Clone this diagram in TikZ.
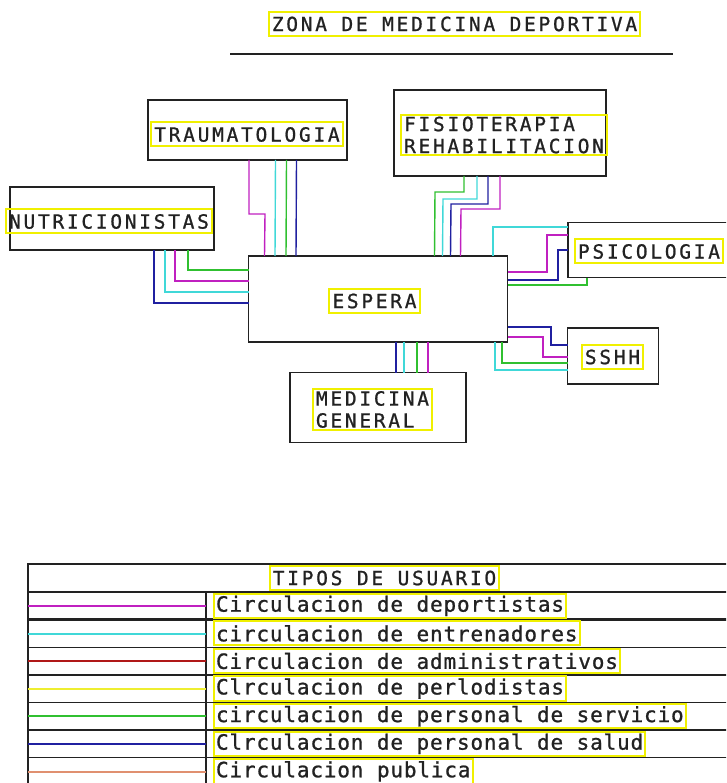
\documentclass[tikz,border=0pt]{standalone}
\usepackage{fontspec}
\newfontfamily\cadfont[LetterSpace=14,FakeBold=1]{DejaVu Sans Mono}
\newfontfamily\cadleg[LetterSpace=4,FakeBold=1]{DejaVu Sans Mono}
\usepackage{xcolor}
\definecolor{ink}{HTML}{222222}
\definecolor{lblc}{HTML}{F0F000}
\definecolor{dep}{HTML}{C020C0}
\definecolor{ent}{HTML}{40D8D8}
\definecolor{adm}{HTML}{B01818}
\definecolor{per}{HTML}{EEEE30}
\definecolor{ser}{HTML}{30C030}
\definecolor{sal}{HTML}{2020A0}
\definecolor{pub}{HTML}{E09070}
\usepackage{tikz}
\usetikzlibrary{positioning,calc}

\begin{document}
\begin{tikzpicture}[x=1pt,y=-1pt,
  room/.style={draw=ink,line width=1.6pt,inner sep=0pt,outer sep=0pt},
  lbl/.style={draw=lblc,line width=2pt,inner xsep=3pt,inner ysep=2pt,minimum height=24pt,text=ink,font=\cadfont\fontsize{19.5}{22}\selectfont},
  leg/.style={draw=lblc,line width=2pt,inner sep=2pt,anchor=west,minimum height=24pt,text=ink,font=\cadleg\fontsize{21}{22}\selectfont},
  flow/.style={line width=1.4pt}]
  \useasboundingbox (0,0) rectangle (726,783);
  \clip (0,0) rectangle (726,783);

  \node[lbl] (title) at (454.5,24) {ZONA DE MEDICINA DEPORTIVA};
  \draw[ink,line width=1.8pt] (230,54) -- (673,54);

  \node[room,minimum width=199pt,minimum height=60pt] (trauma) at (247.5,130) {};
  \node[room,minimum width=212pt,minimum height=86pt] (fisio) at (500,133) {};
  \node[room,minimum width=204pt,minimum height=63pt] (nutri) at (112,218.5) {};
  \node[room,minimum width=168pt,minimum height=55pt] (psico) at (652,250) {};
  \node[room,minimum width=259pt,minimum height=86pt] (espera) at (378,299) {};
  \node[room,minimum width=91pt,minimum height=56pt] (sshh) at (613,356) {};
  \node[room,minimum width=176pt,minimum height=70pt] (medgen) at (378,407.5) {};

  \node[lbl] (traumatxt) at (247,134.5) {TRAUMATOLOGIA};
  \node[lbl,align=left] (fisiotxt) at (504,135) {FISIOTERAPIA\\REHABILITACION};
  \node[lbl] (nutritxt) at (109,221.5) {NUTRICIONISTAS};
  \node[lbl] (psicotxt) at (649,251.5) {PSICOLOGIA};
  \node[lbl] (esperatxt) at (374.5,301) {ESPERA};
  \node[lbl] (sshhtxt) at (612.5,357) {SSHH};
  \node[lbl,align=left] (medgentxt) at (372.5,409.5) {MEDICINA\\GENERAL};

  \draw[flow,dep] ([xshift=101pt]trauma.south west) |- (265,214) -- ([xshift=16pt]espera.north west);
  \draw[flow,ent] ([xshift=127.5pt]trauma.south west) -- ([xshift=26.5pt]espera.north west);
  \draw[flow,ser] ([xshift=138.5pt]trauma.south west) -- ([xshift=37.5pt]espera.north west);
  \draw[flow,sal] ([xshift=148.5pt]trauma.south west) -- ([xshift=47.5pt]espera.north west);

  \draw[flow,sal] ([xshift=144pt]nutri.south west) |- ([yshift=-4pt]espera.west);
  \draw[flow,ent] ([xshift=155pt]nutri.south west) |- ([yshift=7pt]espera.west);
  \draw[flow,dep] ([xshift=165pt]nutri.south west) |- ([yshift=18pt]espera.west);
  \draw[flow,ser] ([xshift=178pt]nutri.south west) |- ([yshift=29pt]espera.west);

  \draw[flow,ser] ([xshift=70pt]fisio.south west) |- (435,192) -- ([xshift=186pt]espera.north west);
  \draw[flow,ent] ([xshift=83pt]fisio.south west) |- (443,199) -- ([xshift=194pt]espera.north west);
  \draw[flow,sal] ([xshift=94pt]fisio.south west) |- (451,204) -- ([xshift=202pt]espera.north west);
  \draw[flow,dep] ([xshift=106pt]fisio.south west) |- (461,209) -- ([xshift=212pt]espera.north west);

  \draw[flow,ent] ([xshift=-14.5pt]espera.north east) |- ([yshift=23pt]psico.west);
  \draw[flow,dep] ([yshift=27pt]espera.east) -| (547,235) -- ([yshift=15pt]psico.west);
  \draw[flow,sal] ([yshift=19pt]espera.east) -| (558,250) -- (psico.west);
  \draw[flow,ser] ([yshift=14pt]espera.east) -| ([xshift=19pt]psico.south west);

  \draw[flow,sal] ([yshift=-28pt]espera.east) -| (551,345) -- ([yshift=11pt]sshh.west);
  \draw[flow,dep] ([yshift=-38pt]espera.east) -| (543,357) -- ([yshift=-1pt]sshh.west);
  \draw[flow,ser] ([xshift=-5.5pt]espera.south east) |- ([yshift=-7pt]sshh.west);
  \draw[flow,ent] ([xshift=-12.5pt]espera.south east) |- ([yshift=-14pt]sshh.west);

  \draw[flow,sal] ([xshift=106pt]medgen.north west) -- ([xshift=147.5pt]espera.south west);
  \draw[flow,ent] ([xshift=114pt]medgen.north west) -- ([xshift=155.5pt]espera.south west);
  \draw[flow,ser] ([xshift=127pt]medgen.north west) -- ([xshift=168.5pt]espera.south west);
  \draw[flow,dep] ([xshift=138pt]medgen.north west) -- ([xshift=179.5pt]espera.south west);

  \draw[ink,line width=1.6pt] (740,564) -- (28,564) -- (28,800);
  \draw[ink,line width=1.6pt] (206,592) -- (206,800);
  \foreach \j in {0,2,4,6}
    \draw[ink,line width=1.2pt] (28,{592+27.6*\j}) -- (740,{592+27.6*\j});
  \foreach \j in {1,3,5}
    \draw[ink,line width=2.6pt] (28,{592+27.6*\j}) -- (740,{592+27.6*\j});
  \node[lbl] (tipos) at (384.5,578) {TIPOS DE USUARIO};
  \foreach \col/\txt [count=\i from 0] in {dep/Circulacion de deportistas,
      ent/circulacion de entrenadores,
      adm/Circulacion de administrativos,
      per/Clrculacion de perlodistas,
      ser/circulacion de personal de servicio,
      sal/Clrculacion de personal de salud,
      pub/Circulacion publica} {
    \draw[\col,line width=2pt] (28,{606+27.6*\i}) -- (206,{606+27.6*\i});
    \node[leg] (row\i) at (213,{605.8+27.6*\i}) {\txt};
  }
\end{tikzpicture}
\end{document}
